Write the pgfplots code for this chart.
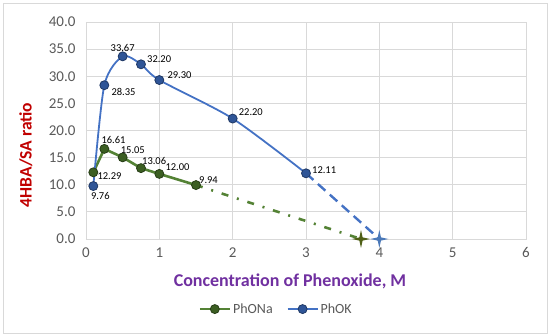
\documentclass[border=0pt]{standalone}
\usepackage{pgfplots}
\pgfplotsset{compat=1.18}
\usepackage{pgfplotstable}
\usepackage{fontspec}
\setmainfont{Carlito}
\definecolor{gridgray}{HTML}{D9D9D9}
\definecolor{ticktext}{HTML}{595959}
\definecolor{naline}{HTML}{548235}
\definecolor{nafill}{HTML}{3B5E22}
\definecolor{nadraw}{HTML}{263D16}
\definecolor{kline}{HTML}{4472C4}
\definecolor{kfill}{HTML}{2F5597}
\definecolor{kdraw}{HTML}{1F3864}
\definecolor{ylab}{HTML}{C00000}
\definecolor{xlab}{HTML}{7030A0}
\definecolor{nastar}{HTML}{4F5F16}
\definecolor{kstar}{HTML}{4A78B8}

\pgfdeclareplotmark{star4}{%
  \pgfpathmoveto{\pgfqpoint{0pt}{\pgfplotmarksize}}%
  \pgfpathlineto{\pgfqpoint{0.18\pgfplotmarksize}{0.18\pgfplotmarksize}}%
  \pgfpathlineto{\pgfqpoint{\pgfplotmarksize}{0pt}}%
  \pgfpathlineto{\pgfqpoint{0.18\pgfplotmarksize}{-0.18\pgfplotmarksize}}%
  \pgfpathlineto{\pgfqpoint{0pt}{-\pgfplotmarksize}}%
  \pgfpathlineto{\pgfqpoint{-0.18\pgfplotmarksize}{-0.18\pgfplotmarksize}}%
  \pgfpathlineto{\pgfqpoint{-\pgfplotmarksize}{0pt}}%
  \pgfpathlineto{\pgfqpoint{-0.18\pgfplotmarksize}{0.18\pgfplotmarksize}}%
  \pgfpathclose\pgfusepathqfill}

\pgfplotstableread{
x y
0.1 12.29
0.25 16.61
0.5 15.05
0.75 13.06
1.0 12.00
1.5 9.94
}\phona
\pgfplotstableread{
x y
0.1 9.76
0.25 28.35
0.5 33.67
0.75 32.20
1.0 29.30
2.0 22.20
3.0 12.11
}\phok

% data label: x, y, anchor, xshift, yshift
\newcommand\lab[5]{%
  \addplot[draw=none, mark=none, forget plot, point meta=explicit symbolic,
    nodes near coords,
    nodes near coords style={anchor=#3, xshift=#4pt, yshift=#5pt,
      font=\fontsize{10.5}{12}\selectfont, text=black, inner sep=1pt}]
    coordinates {(#1,#2) [#2]};}

\begin{document}
\begin{tikzpicture}
\useasboundingbox (-86pt,-97pt) rectangle (464pt,239pt);
\draw[gridgray, line width=0.8pt] (-83pt,-94pt) rectangle (461pt,236pt);
\begin{axis}[
  at={(0pt,0pt)}, anchor=south west,
  width=440pt, height=217pt, scale only axis,
  xmin=0, xmax=6, ymin=0, ymax=40,
  xtick={0,1,2,3,4,5,6},
  ytick={0,5,10,15,20,25,30,35,40},
  grid=major,
  grid style={gridgray, line width=0.8pt},
  axis line style={gridgray, line width=0.8pt},
  tick style={draw=none},
  /pgf/number format/assume math mode=true,
  yticklabel style={/pgf/number format/fixed, /pgf/number format/fixed zerofill, /pgf/number format/precision=1, xshift=-7pt},
  ticklabel style={font=\fontsize{15}{17}\selectfont, text=ticktext},
  xticklabel style={yshift=-5pt},
  xlabel={Concentration of Phenoxide, M},
  ylabel={4HBA/SA ratio},
  xlabel style={at={(rel axis cs:0.4636,-0.1935)}, anchor=center,
    font=\bfseries\fontsize{18}{20}\selectfont, text=xlab},
  ylabel style={at={(rel axis cs:-0.1364,0.387)}, anchor=center,
    font=\bfseries\fontsize{17.5}{19}\selectfont, text=ylab},
  legend style={at={(0.432,-0.323)}, anchor=center, draw=none, fill=none,
    legend columns=2, font=\fontsize{14}{16}\selectfont, text=ticktext,
    /tikz/every even column/.append style={column sep=12pt}},
  legend image code/.code={\draw[#1, mark repeat=2, mark phase=2]
    plot coordinates {(0pt,0pt) (15pt,0pt) (30pt,0pt)};},
  legend cell align=left,
  clip=false,
]
% extensions
\addplot[naline, line width=2.6pt, dash pattern=on 7pt off 9pt on 2pt off 9pt, forget plot] coordinates {(1.5,9.94) (3.75,0)};
\addplot[kline, line width=2.4pt, dash pattern=on 10pt off 6pt, forget plot] coordinates {(3,12.11) (4,0)};
\addplot[only marks, mark=star4, mark size=9pt, nastar, forget plot] coordinates {(3.75,0)};
\addplot[only marks, mark=star4, mark size=9pt, kstar, forget plot] coordinates {(4,0)};
% series
\addplot[naline, line width=2.6pt, mark=*, mark size=4.5pt,
  mark options={fill=nafill, draw=nadraw, line width=0.8pt, solid}] table[x=x,y=y] {\phona};
\addlegendentry{PhONa}
\addplot[kline, line width=1.8pt, smooth, tension=0.45, mark=*, mark size=4.5pt,
  mark options={fill=kfill, draw=kdraw, line width=0.8pt, solid}] table[x=x,y=y] {\phok};
\addlegendentry{PhOK}
% data labels
\lab{0.1}{12.29}{west}{3}{-4}
\lab{0.25}{16.61}{south west}{-4}{4}
\lab{0.5}{15.05}{south west}{-3}{3}
\lab{0.75}{13.06}{south west}{0}{2}
\lab{1.0}{12.00}{west}{5}{7}
\lab{1.5}{9.94}{south west}{2}{0}
\lab{0.1}{9.76}{north}{7}{-5}
\lab{0.25}{28.35}{west}{6}{-7}
\lab{0.5}{33.67}{south}{0}{4}
\lab{0.75}{32.20}{west}{5}{5}
\lab{1.0}{29.30}{west}{7}{5}
\lab{2.0}{22.20}{west}{5}{6}
\lab{3.0}{12.11}{west}{5}{3}
\end{axis}
\end{tikzpicture}
\end{document}
